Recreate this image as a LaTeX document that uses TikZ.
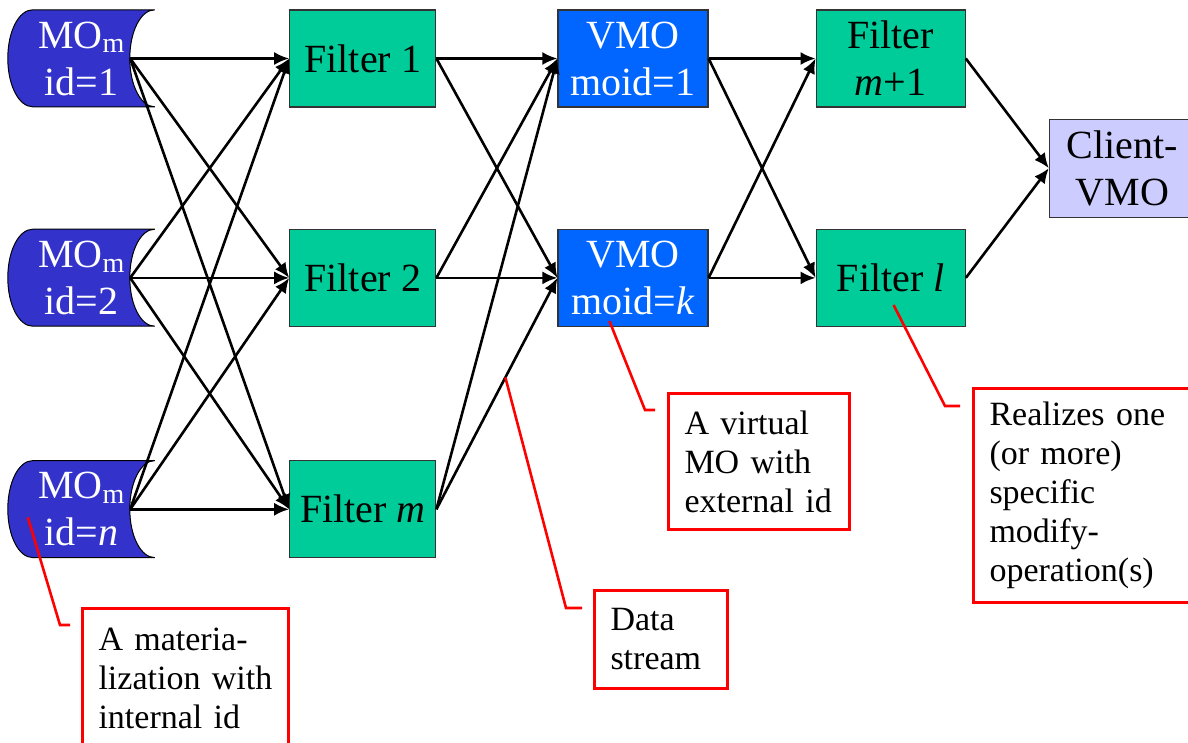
\documentclass[tikz,border=0pt]{standalone}
\usepackage{fontspec}
\setmainfont{Liberation Serif}
\usetikzlibrary{arrows.meta,positioning,calc,backgrounds}
\definecolor{MOBlue}{RGB}{51,51,204}
\definecolor{FilterGreen}{RGB}{0,204,153}
\definecolor{VMOBlue}{RGB}{0,102,255}
\definecolor{ClientLilac}{RGB}{204,204,255}
\tikzset{
  mobox/.style={minimum width=147pt,minimum height=97pt,inner sep=0pt,align=center,
    text=white,font=\fontsize{40}{47}\selectfont},
  mofill/.style={fill=MOBlue,draw=black,line width=1pt},
  filterbox/.style={draw=black!80,fill=FilterGreen,line width=1.2pt,minimum width=146pt,
    minimum height=97pt,inner sep=0pt,align=center,font=\fontsize{40}{47}\selectfont},
  vmobox/.style={draw=black!80,fill=VMOBlue,text=white,line width=1.2pt,minimum width=150pt,
    minimum height=97pt,inner sep=0pt,align=center,font=\fontsize{40}{47}\selectfont},
  clientbox/.style={draw=black!80,fill=ClientLilac,line width=1.2pt,minimum width=146pt,
    minimum height=98pt,inner sep=0pt,align=center,font=\fontsize{40}{47}\selectfont},
  note/.style={draw=red,fill=white,line width=3pt,anchor=north west,align=left,
    inner xsep=16pt,inner ysep=0pt,font=\fontsize{34}{39}\selectfont},
  arrow/.style={-{Latex[length=15pt,width=13pt]},line width=2.6pt,black},
  leader/.style={red,line width=2.6pt}
}

\begin{document}
\begin{tikzpicture}[x=1pt,y=-1pt]
  \useasboundingbox (0,0) rectangle (1188,742);
  \node[mobox] (mo1) at (81.5,58.5) {MO\textsubscript{m}\\id=1};
  \node[mobox,below=122pt of mo1] (mo2) {MO\textsubscript{m}\\id=2};
  \node[mobox,below=134pt of mo2] (mon) {MO\textsubscript{m}\\id=\textit{n}};
  \node[filterbox,right=134pt of mo1] (f1) {Filter 1};
  \node[filterbox,right=134pt of mo2] (f2) {Filter 2};
  \node[filterbox,right=134pt of mon] (fm) {Filter \textit{m}};
  \node[vmobox,right=121pt of f1] (v1) {VMO\\moid=1};
  \node[vmobox,right=121pt of f2] (vk) {VMO\\moid=\textit{k}};
  \node[filterbox,minimum width=149pt,right=107pt of v1] (fm1) {Filter\\\textit{m}+1};
  \node[filterbox,minimum width=149pt,right=107pt of vk] (fl) {Filter \textit{l}};
  \node[clientbox,right=83pt of $(fm1.east)!0.5!(fl.east)$] (client) {Client-\\VMO};
  \begin{scope}[on background layer]
    \foreach \n in {mo1,mo2,mon}
      \path[mofill,shift={(\n.north west)}] (25,0) .. controls (11,0) and (0,21.5) .. (0,48.5)
        .. controls (0,75.5) and (11,97) .. (25,97) -- (147,97)
        .. controls (133,97) and (122,75.5) .. (122,48.5)
        .. controls (122,21.5) and (133,0) .. (147,0) -- cycle;
  \end{scope}
  \foreach \s in {mo1,mo2,mon}
    \foreach \t in {f1,f2,fm}
      \draw[arrow] ([xshift=-25pt]\s.east) -- (\t.west);
  \foreach \s in {f1,f2,fm}
    \foreach \t in {v1,vk}
      \draw[arrow] (\s.east) -- coordinate[pos=0.57] (\s-\t) (\t.west);
  \foreach \s in {v1,vk}
    \foreach \t in {fm1,fl}
      \draw[arrow] (\s.east) -- (\t.west);
  \foreach \s in {fm1,fl}
    \draw[arrow] (\s.east) -- (client.west);
  \node[note,text width=174pt,minimum height=140pt] (noteA) at (81,607) {A materia-\\lization with\\internal id};
  \node[note,text width=149pt,minimum height=136pt] (noteB) at (667,392) {A virtual\\MO with\\external id};
  \node[note,text width=101pt,minimum height=98pt] (noteC) at (593,589) {Data\\stream};
  \node[note,text width=195pt,minimum height=214pt] (noteD) at (972,387) {Realizes one\\(or more)\\specific\\modify-\\operation(s)};
  \coordinate (tipA) at ($(mon.west)+(20,8)$);
  \coordinate (tipB) at ($(vk.south west)+(52,-6)$);
  \coordinate (tipD) at ($(fl.south west)+(78,-22)$);
  \draw[leader] (tipA) -- ($(noteA.north west)+(-21,18)$) -- ++(10,0);
  \draw[leader] (tipB) -- ($(noteB.north west)+(-22,18)$) -- ++(10,0);
  \draw[leader] (fm-vk) -- ($(noteC.north west)+(-27,19)$) -- ++(16,0);
  \draw[leader] (tipD) -- ($(noteD.north west)+(-27,19)$) -- ++(15,0);
\end{tikzpicture}
\end{document}
